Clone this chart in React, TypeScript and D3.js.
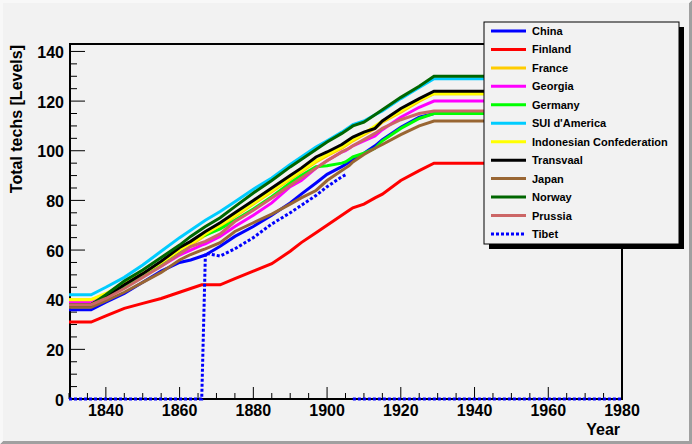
import React from 'react';
import * as d3 from 'd3';

// ---------- DATA ----------
const YEARS = [1830, 1836, 1840, 1845, 1850, 1855, 1860, 1863, 1866, 1867, 1871, 1875, 1880, 1885, 1890, 1893, 1897, 1900, 1904, 1905, 1906, 1907, 1910, 1913, 1915, 1920, 1925, 1929, 1980];

const CHINA = [36, 36, 39, 42.5, 47, 51.5, 55, 56, 57.5, 58, 61.5, 65.5, 69.5, 74, 79, 82.5, 87, 90.5, 93.6, 94.5, 95.5, 96.5, 99, 102, 104.5, 109.5, 113.5, 115, 115];
const FINLAND = [31, 31, 33.5, 36.5, 38.5, 40.5, 43, 44.5, 46, 46, 46, 48.5, 51.5, 54.5, 59.5, 63, 67, 70, 74, 75, 76, 77, 78.5, 81, 82.5, 88, 92, 95, 95];
const FRANCE = [40, 40, 42, 46, 50, 54.5, 59.5, 62, 65, 66, 69.5, 73.5, 78.5, 83.5, 88.5, 91.5, 95.5, 98, 101, 102, 103, 104, 106.5, 109, 111.5, 115.5, 120, 123, 123];
const GEORGIA = [39, 39, 41.5, 45, 49.5, 53.5, 58, 60, 62, 62.5, 65.5, 69.5, 74, 79, 85.5, 88, 93, 96, 99.5, 100, 101, 102, 104, 106, 108.5, 113.5, 117.5, 120, 120];
const GERMANY = [38, 38, 41, 45, 49.5, 54, 59, 63, 65.5, 66, 68.5, 72, 76.5, 81.5, 87, 90, 93.6, 94, 95, 95.5, 96.5, 97.5, 99, 101, 104, 109, 113, 115, 115];
const SUI = [42, 42, 45, 49, 54, 59.5, 65, 68, 71, 72, 75.5, 79.5, 84.5, 89, 94.5, 97.5, 101.5, 104, 107.5, 108.5, 109.5, 110.5, 112, 114.5, 116, 121, 125.5, 129, 129];
const INDONESIA = [40, 40, 42.5, 46.5, 50.5, 55, 60, 62.5, 65.5, 66.5, 70, 74, 79, 84, 89, 92, 96, 98.5, 101.5, 102.5, 103.5, 104.5, 107, 110, 112, 116, 120.5, 123, 123];
const TRANSVAAL = [38, 38, 41, 46, 50.5, 55.5, 61, 63.5, 66.5, 67.5, 71, 75, 80, 85, 90, 93, 97.5, 99.5, 102.5, 103.5, 104.5, 105.5, 107.5, 109, 112, 117, 121, 124, 124];
const JAPAN = [37, 37, 39.5, 43, 47, 51, 56, 58.2, 60, 60.5, 63, 67.5, 71, 74.5, 78.5, 81, 84, 88, 92, 93, 94, 95.5, 98.5, 101, 102.5, 106.5, 110, 112, 112];
const NORWAY = [38, 38, 42, 47.5, 52, 57, 62, 65.5, 68.5, 69.5, 73, 77.5, 83, 88, 93.5, 96.5, 100.5, 103.5, 107, 108, 109, 110, 111.5, 114.5, 116.5, 121.5, 126, 130, 130];
const PRUSSIA = [38, 38, 40.5, 44.5, 49, 53.5, 58.5, 61.4, 63, 63.5, 66.5, 71.5, 76, 81, 86, 89, 93, 96, 99.5, 100.3, 101, 102, 104.5, 107, 109, 112.5, 115, 116, 116];
const TIBET: (number | null)[] = [0, 0, 0, 0, 0, 0, 0, 0, 0, 58.7, 57.6, 60.5, 65, 70.5, 75, 78, 82, 85.5, 89.5, 90.3, null, 0, 0, 0, 0, 0, 0, 0, 0];

const SERIES_NAMES = ['China', 'Finland', 'France', 'Georgia', 'Germany', "SUI d'America", 'Indonesian Confederation', 'Transvaal', 'Japan', 'Norway', 'Prussia', 'Tibet'];
const SERIES_VALUES = [CHINA, FINLAND, FRANCE, GEORGIA, GERMANY, SUI, INDONESIA, TRANSVAAL, JAPAN, NORWAY, PRUSSIA, TIBET];

const X_MAJOR = [1840, 1860, 1880, 1900, 1920, 1940, 1960, 1980];
const Y_MAJOR = [0, 20, 40, 60, 80, 100, 120, 140];

// ---------- STYLES ----------
const COLORS = ['#0000ff', '#ff0000', '#ffcc00', '#ff00ff', '#00ff00', '#00ccff', '#ffff00', '#000000', '#996633', '#006600', '#cc6666', '#0000ff'];
const DASHED = [false, false, false, false, false, false, false, false, false, false, false, true];

const W = 692;
const H = 444;
const FONT = '"Liberation Sans", Arial, Helvetica, sans-serif';
const BG = '#f2f2f2';

export default function App() {
  const x = d3.scaleLinear().domain([1830, 1980]).range([69, 622]);
  const y = d3.scaleLinear().domain([0, 143]).range([399, 44]);

  const xMinor = d3.range(1830, 1981, 5);
  const yMinor = d3.range(0, 141, 5);

  const line = d3
    .line<[number, number | null]>()
    .defined((d) => d[1] !== null)
    .x((d) => x(d[0]))
    .y((d) => y(d[1] as number));

  const paths = SERIES_VALUES.map((vals) =>
    line(YEARS.map((yr, i) => [yr, vals[i]] as [number, number | null])) || ''
  );

  const legX = 484;
  const legY = 22;
  const legW = 195;
  const legH = 222;
  const rowY = (i: number) => 31 + i * 18.45;

  return (
    <svg
      width={W}
      height={H}
      style={{ position: 'absolute', left: 0, top: 0, display: 'block' }}
      fontFamily={FONT}
    >
      <rect x={0} y={0} width={W} height={H} fill={BG} />
      {/* canvas border */}
      <polygon points={`0,${H} ${W},${H} ${W},0 ${W - 3},3 ${W - 3},${H - 3} 3,${H - 3}`} fill="#a0a0a0" />
      <polygon points={`0,0 ${W},0 ${W - 3},3 3,3 3,${H - 3} 0,${H}`} fill="#f8f8f8" />

      {/* frame */}
      <rect x={70} y={44} width={552} height={355} fill={BG} stroke="#000" strokeWidth={2} />

      {/* y ticks */}
      {yMinor.map((v) => (
        <line key={'ym' + v} x1={x(1830)} x2={x(1830) + (v % 20 === 0 ? 16 : 8)} y1={y(v)} y2={y(v)} stroke="#000" strokeWidth={1} />
      ))}
      {Y_MAJOR.map((v) => (
        <text key={'yl' + v} x={64} y={y(v) + 1} textAnchor="end" dominantBaseline="central" fontSize={16} fontWeight="bold" fill="#000">
          {v}
        </text>
      ))}
      {/* x ticks */}
      {xMinor.map((t) => (
        <line key={'xm' + t} x1={x(t)} x2={x(t)} y1={y(0)} y2={y(0) - (t % 20 === 0 ? 12 : 6)} stroke="#000" strokeWidth={1} />
      ))}
      {X_MAJOR.map((t) => (
        <text key={'xl' + t} x={x(t)} y={416} textAnchor="middle" fontSize={16} fontWeight="bold" fill="#000">
          {t}
        </text>
      ))}

      {/* axis titles */}
      <text x={620} y={435} textAnchor="end" fontSize={16} fontWeight="bold" fill="#000">
        Year
      </text>
      <text transform="translate(22,45) rotate(-90)" textAnchor="end" fontSize={16} fontWeight="bold" fill="#000">
        Total techs [Levels]
      </text>

      {/* series */}
      {paths.map((p, i) => (
        <path
          key={'s' + i}
          d={p}
          fill="none"
          stroke={COLORS[i]}
          strokeWidth={3}
          strokeDasharray={DASHED[i] ? '3,2' : undefined}
        />
      ))}

      {/* legend */}
      <rect x={legX + 5} y={legY + 5} width={legW} height={legH} fill="#000" />
      <rect x={legX} y={legY} width={legW} height={legH} fill={BG} stroke="#000" strokeWidth={1} />
      {SERIES_NAMES.map((name, i) => (
        <g key={'lg' + i}>
          <line
            x1={491}
            x2={526}
            y1={rowY(i)}
            y2={rowY(i)}
            stroke={COLORS[i]}
            strokeWidth={3}
            strokeDasharray={DASHED[i] ? '3,2' : undefined}
          />
          <text x={532} y={rowY(i)} dominantBaseline="central" fontSize={11} fontWeight="bold" fill="#000">
            {name}
          </text>
        </g>
      ))}
    </svg>
  );
}
